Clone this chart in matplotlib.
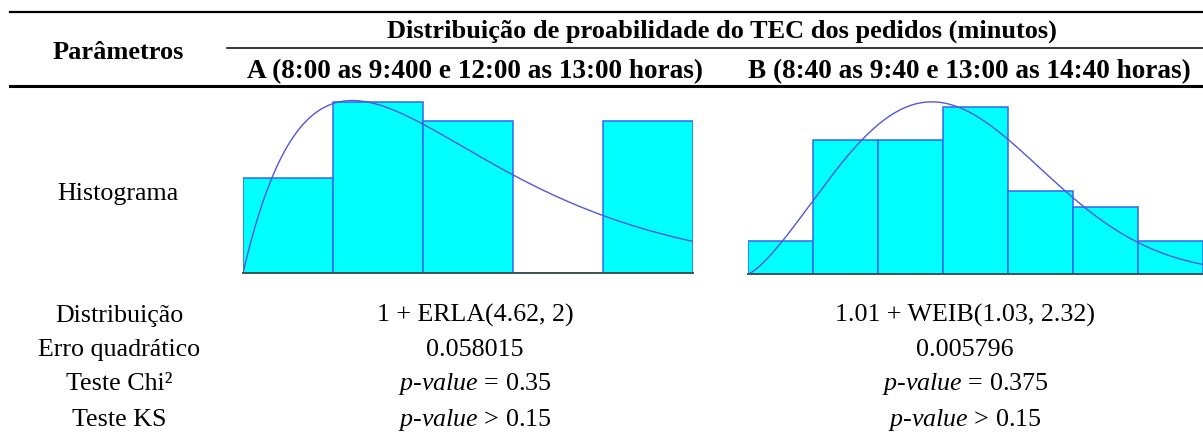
from math import factorial

import numpy as np
import matplotlib
matplotlib.use("Agg")
import matplotlib.pyplot as plt
from matplotlib.lines import Line2D

# ---- data -------------------------------------------------------------
row_labels = ["Distribuição", "Erro quadrático", "Teste Chi²", "Teste KS"]
header_main = "Distribuição de proabilidade do TEC dos pedidos (minutos)"
header_a = "A (8:00 as 9:400 e 12:00 as 13:00 horas)"
header_b = "B (8:40 as 9:40 e 13:00 as 14:40 horas)"

# histogram A: observed counts per interval, fitted 1 + ERLA(4.62, 2)
a_edges = [1.0, 4.8, 8.6, 12.4, 16.2, 20.0]
a_counts = [5, 9, 8, 0, 8]
a_offset, a_mean, a_k = 1.0, 4.62, 2

# histogram B: observed counts per interval, fitted 1.01 + WEIB(1.03, 2.32)
b_edges = [1.01, 1.2957, 1.5814, 1.8671, 2.1529, 2.4386, 2.7243, 3.01]
b_counts = [2, 8, 8, 10, 5, 4, 2]
b_offset, b_scale, b_shape = 1.01, 1.03, 2.32

dist_text = ["1 + ERLA(4.62, 2)", "1.01 + WEIB(1.03, 2.32)"]
sq_err = ["0.058015", "0.005796"]
chi_p = ["0.35", "0.375"]
ks_p = ["0.15", "0.15"]

# ---- layout helpers ---------------------------------------------------
W, H = 1203, 432
fig = plt.figure(figsize=(W / 100, H / 100), dpi=100)
plt.rcParams["font.family"] = ["Liberation Serif", "DejaVu Serif"]
plt.rcParams["mathtext.fontset"] = "custom"
plt.rcParams["mathtext.rm"] = "Liberation Serif"
plt.rcParams["mathtext.it"] = "Liberation Serif:italic"


def fx(x):
    return x / W


def fy(y):
    return 1 - y / H


def hline(x0, x1, y, lw):
    fig.add_artist(Line2D([fx(x0), fx(x1)], [fy(y), fy(y)], color="black",
                          lw=lw, transform=fig.transFigure))


def put(x, y, s, size=18.7, **kw):
    fig.text(fx(x), fy(y), s, ha="center", va="baseline", fontsize=size, **kw)


# ---- table rules and headers -----------------------------------------
hline(10, 1203, 12, 1.6)
hline(227, 1203, 48, 1.1)
hline(10, 1203, 86, 2.2)

put(118, 59, "Parâmetros", size=19, fontweight="bold")
put(722, 38, header_main, size=19, fontweight="bold")
put(475, 78, header_a, size=19.6, fontweight="bold")
put(969, 78, header_b, size=19.6, fontweight="bold")

put(118, 200, "Histograma")

row_y = [322, 356, 390, 426]
col_x = [475, 965]
for lbl, y in zip(row_labels, row_y):
    put(119, y, lbl)
for i, cx in enumerate(col_x):
    put(cx, row_y[0], dist_text[i])
    put(cx, row_y[1], sq_err[i])
    put(cx, row_y[2], r"$p$-$value$ = " + chi_p[i])
    put(cx, row_y[3], r"$p$-$value$ > " + ks_p[i])

# ---- histograms -------------------------------------------------------
bar_face = "#00ffff"
bar_edge = "#3366ee"
curve_col = "#5555dd"
base_col = "#3d5555"


def hist_axes(x0, x1, ybase, ytop):
    ax = fig.add_axes([fx(x0), fy(ybase), fx(x1) - fx(x0), (ybase - ytop) / H])
    ax.set_axis_off()
    return ax


def draw_hist(ax, edges, counts, pdf, ymax):
    edges = np.asarray(edges)
    freq = np.asarray(counts) / np.sum(counts)
    width = np.diff(edges)
    ax.bar(edges[:-1], freq, width=width, align="edge", color=bar_face,
           edgecolor=bar_edge, linewidth=1.1, zorder=2)
    xs = np.linspace(edges[0], edges[-1], 400)
    ax.plot(xs, pdf(xs) * width[0], color=curve_col, lw=1.0, zorder=3)
    ax.set_xlim(edges[0], edges[-1])
    ax.set_ylim(0, ymax)
    ax.axhline(0, color=base_col, lw=1.4, zorder=4, clip_on=False)


def erlang_pdf(x):
    t = np.clip(x - a_offset, 0, None)
    b = a_mean
    return t ** (a_k - 1) * np.exp(-t / b) / (b ** a_k * factorial(a_k - 1))


def weibull_pdf(x):
    t = np.clip(x - b_offset, 0, None)
    z = t / b_scale
    return (b_shape / b_scale) * z ** (b_shape - 1) * np.exp(-z ** b_shape)


ax_a = hist_axes(243, 693, 273, 92)
draw_hist(ax_a, a_edges, a_counts, erlang_pdf, 0.3 * 181 / 171)

ax_b = hist_axes(748, 1203, 274, 92)
draw_hist(ax_b, b_edges, b_counts, weibull_pdf, (10 / 39) * 182 / 167)

fig.savefig("out.png", dpi=100)
